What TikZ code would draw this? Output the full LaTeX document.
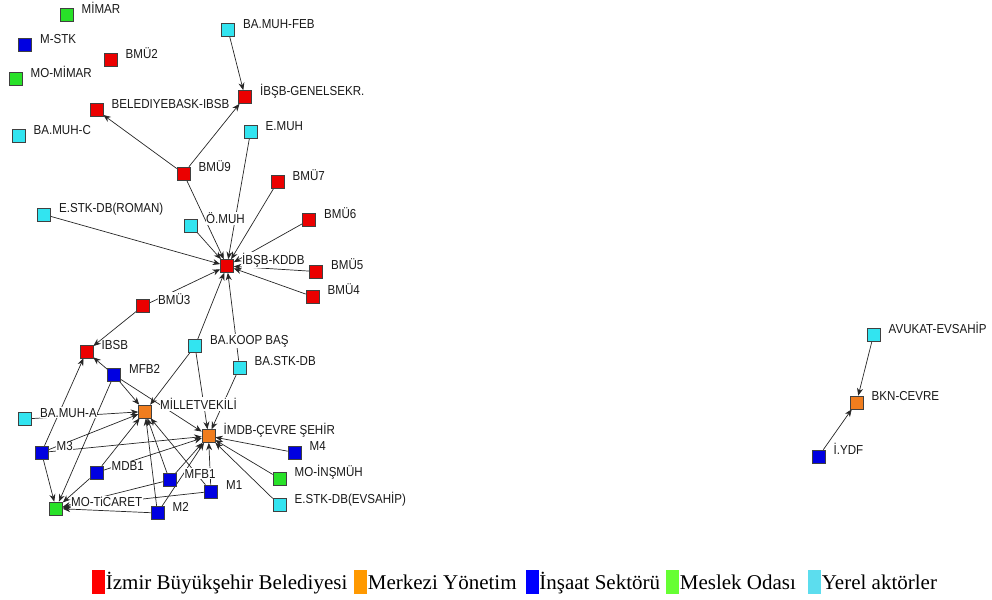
\documentclass[tikz,border=0pt]{standalone}
\usepackage{fontspec}
\setmainfont{Liberation Serif}
\newfontfamily\lblfont[FakeStretch=0.89]{Liberation Sans}
\usetikzlibrary{arrows.meta,calc,backgrounds}
\definecolor{nred}{RGB}{235,0,0}
\definecolor{norange}{RGB}{240,125,30}
\definecolor{nblue}{RGB}{0,0,225}
\definecolor{ngreen}{RGB}{40,225,40}
\definecolor{ncyan}{RGB}{50,228,240}
\definecolor{lred}{RGB}{255,0,0}
\definecolor{lorange}{RGB}{255,153,0}
\definecolor{lblue}{RGB}{0,0,255}
\definecolor{lgreen}{RGB}{102,255,51}
\definecolor{lcyan}{RGB}{92,221,238}
\tikzset{
  sq/.style={rectangle, draw=black!75, line width=0.6pt, minimum size=13pt, inner sep=0pt},
  lbl/.style={font=\lblfont\fontsize{13}{14}\selectfont, anchor=base west, inner xsep=0.5pt, inner ysep=1pt, fill=white, text=black!90},
  conn/.style={draw=black!85, line width=0.7pt, -{Stealth[length=7.5pt,width=6pt]}},
  legbox/.style={rectangle, minimum width=13pt, minimum height=24pt, inner sep=0pt, anchor=north west},
  legtxt/.style={font=\fontsize{21}{24}\selectfont, anchor=base west, inner sep=0pt}
}
\newcommand\mkactor[5]{%
  \node[sq,fill=#2] (#1) at (#3,#4) {};
  \node[lbl] (#1-l) at ($(#1)+(14.5,-1.8)$) {#5};}
\begin{document}
\begin{tikzpicture}[x=1pt,y=-1pt]
\useasboundingbox (0,0) rectangle (992,599);
% nodes
\mkactor{mimar}{ngreen}{66.5}{15}{MİMAR}
\mkactor{mstk}{nblue}{25}{45}{M-STK}
\mkactor{bmu2}{nred}{110.5}{60}{BMÜ2}
\mkactor{momimar}{ngreen}{15.5}{79}{MO-MİMAR}
\mkactor{beled}{nred}{96.5}{110}{BELEDIYEBASK-IBSB}
\mkactor{bamuhc}{ncyan}{18.5}{136}{BA.MUH-C}
\mkactor{bamuhfeb}{ncyan}{228}{30}{BA.MUH-FEB}
\mkactor{genel}{nred}{245}{97}{İBŞB-GENELSEKR.}
\mkactor{emuh}{ncyan}{250.5}{132}{E.MUH}
\mkactor{bmu9}{nred}{183.5}{173.5}{BMÜ9}
\mkactor{bmu7}{nred}{277.5}{182}{BMÜ7}
\mkactor{estkroman}{ncyan}{44}{214.5}{E.STK-DB(ROMAN)}
\mkactor{omuh}{ncyan}{191}{225.5}{Ö.MUH}
\mkactor{bmu6}{nred}{309}{220}{BMÜ6}
\mkactor{kddb}{nred}{227}{266}{İBŞB-KDDB}
\mkactor{bmu5}{nred}{316}{271.5}{BMÜ5}
\mkactor{bmu4}{nred}{312.5}{296.5}{BMÜ4}
\mkactor{bmu3}{nred}{143}{306}{BMÜ3}
\mkactor{ibsb}{nred}{86.5}{351.5}{IBSB}
\mkactor{bakoop}{ncyan}{195}{346}{BA.KOOP BAŞ}
\mkactor{bastk}{ncyan}{239.5}{367.5}{BA.STK-DB}
\mkactor{mfb2}{nblue}{114}{375}{MFB2}
\mkactor{milletv}{norange}{145}{411.5}{MİLLETVEKİLİ}
\mkactor{bamuha}{ncyan}{25}{419}{BA.MUH-A}
\mkactor{imdb}{norange}{208.5}{436}{İMDB-ÇEVRE ŞEHİR}
\mkactor{mfour}{nblue}{294.5}{452.5}{M4}
\mkactor{mthree}{nblue}{41.5}{452.5}{M3}
\mkactor{mdb1}{nblue}{96.5}{472.5}{MDB1}
\mkactor{moinsmuh}{ngreen}{279.5}{478.5}{MO-İNŞMÜH}
\mkactor{mfb1}{nblue}{169.5}{480}{MFB1}
\mkactor{mone}{nblue}{211}{491.5}{M1}
\mkactor{estkevs}{ncyan}{279.5}{505}{E.STK-DB(EVSAHİP)}
\mkactor{moticaret}{ngreen}{56}{508.5}{MO-TiCARET}
\mkactor{mtwo}{nblue}{157.5}{513}{M2}
\mkactor{avukat}{ncyan}{873.5}{335}{AVUKAT-EVSAHİP}
\mkactor{bkn}{norange}{856.5}{402.5}{BKN-CEVRE}
\mkactor{iydf}{nblue}{818.5}{456.5}{İ.YDF}
% connectors
\begin{scope}[on background layer]
\draw[conn] (bamuhfeb) -- (genel);
\draw[conn] (bmu9) -- (genel);
\draw[conn] (bmu9) -- (beled);
\draw[conn] (bmu9) -- (kddb);
\draw[conn] (emuh) -- (kddb);
\draw[conn] (bmu7) -- (kddb);
\draw[conn] (estkroman) -- (kddb);
\draw[conn] (omuh) -- (kddb);
\draw[conn] (bmu6) -- (kddb);
\draw[conn] (bmu5) -- (kddb);
\draw[conn] (bmu4) -- (kddb);
\draw[conn] (bmu3) -- (kddb);
\draw[conn] (bakoop) -- (kddb);
\draw[conn] (bastk) -- (kddb);
\draw[conn] (bmu3) -- (ibsb);
\draw[conn] (bakoop) -- (milletv);
\draw[conn] (bakoop) -- (imdb);
\draw[conn] (bastk) -- (imdb);
\draw[conn] (mfb2) -- (ibsb);
\draw[conn] (mfb2) -- (milletv);
\draw[conn] (mfb2) -- (imdb);
\draw[conn] (bamuha) -- (milletv);
\draw[conn] (mthree) -- (ibsb);
\draw[conn] (mthree) -- (moticaret);
\draw[conn] (mthree) -- (milletv);
\draw[conn] (mthree) -- (imdb);
\draw[conn] (mfb2) -- (moticaret);
\draw[conn] (mdb1) -- (milletv);
\draw[conn] (mdb1) -- (moticaret);
\draw[conn] (mdb1) -- (imdb);
\draw[conn] (mfb1) -- (milletv);
\draw[conn] (mfb1) -- (imdb);
\draw[conn] (mfb1) -- (moticaret);
\draw[conn] (mone) -- (moticaret);
\draw[conn] (mone) -- (imdb);
\draw[conn] (mone) -- (milletv);
\draw[conn] (mtwo) -- (milletv);
\draw[conn] (mtwo) -- (imdb);
\draw[conn] (mtwo) -- (moticaret);
\draw[conn] (mfour) -- (imdb);
\draw[conn] (moinsmuh) -- (imdb);
\draw[conn] (estkevs) -- (imdb);
\draw[conn] (avukat) -- (bkn);
\draw[conn] (iydf) -- (bkn);
\end{scope}
% legend
\node[legbox,fill=lred] (leg1) at (92,570) {};
\node[legtxt] (leg1t) at ($(leg1.south east)+(0.3,-5)$) {İzmir Büyükşehir Belediyesi};
\node[legbox,fill=lorange] (leg2) at (354,570) {};
\node[legtxt] (leg2t) at ($(leg2.south east)+(0.3,-5)$) {Merkezi Yönetim};
\node[legbox,fill=lblue] (leg3) at (525.5,570) {};
\node[legtxt] (leg3t) at ($(leg3.south east)+(0.3,-5)$) {İnşaat Sektörü};
\node[legbox,fill=lgreen] (leg4) at (666,570) {};
\node[legtxt] (leg4t) at ($(leg4.south east)+(0.3,-5)$) {Meslek Odası};
\node[legbox,fill=lcyan] (leg5) at (808,570) {};
\node[legtxt] (leg5t) at ($(leg5.south east)+(0.3,-5)$) {Yerel aktörler};
\end{tikzpicture}
\end{document}
